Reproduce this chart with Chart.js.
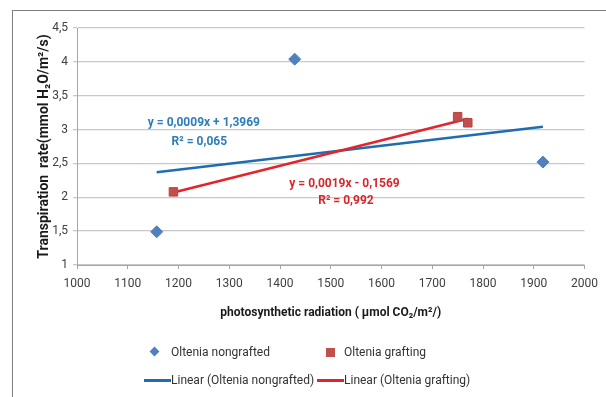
<!DOCTYPE html>
<html>
<head>
<meta charset="utf-8">
<script src="https://cdn.jsdelivr.net/npm/chart.js@4"></script>
<style>
  body { margin: 0; background: #fff; }
  #wrap { position: relative; width: 606px; height: 397px; overflow: hidden; font-family: Roboto, sans-serif; }
  #frame { position: absolute; left: 12px; top: 10px; width: 640px; height: 420px; border: 1.5px solid #7f7f7f; }
  #chart { position: absolute; left: 0; top: 0; }
  .lg { position: absolute; font-size: 12px; color: #333; line-height: 14px; white-space: nowrap; }
  .mk { position: absolute; }
</style>
</head>
<body>
<div id="wrap">
  <div id="frame"></div>
  <canvas id="chart" width="606" height="397"></canvas>
  <div class="mk" style="left:151px;top:348px;width:7px;height:7px;background:#4f81bd;transform:rotate(45deg);"></div>
  <div class="lg" style="left:171px;top:345px;">Oltenia nongrafted</div>
  <div class="mk" style="left:326px;top:348px;width:9px;height:9px;background:#c0504d;"></div>
  <div class="lg" style="left:344px;top:345px;">Oltenia grafting</div>
  <div class="mk" style="left:144px;top:379px;width:27px;height:3px;background:#1f6db0;"></div>
  <div class="lg" style="left:171px;top:373px;">Linear (Oltenia nongrafted)</div>
  <div class="mk" style="left:317px;top:379px;width:27px;height:3px;background:#e3242b;"></div>
  <div class="lg" style="left:344px;top:373px;">Linear (Oltenia grafting)</div>
</div>
<script>
// values
const nongraftedX = [1157, 1429, 1918];
const nongraftedY = [1.49, 4.04, 2.52];
const graftingX = [1190, 1750, 1770];
const graftingY = [2.08, 3.19, 3.10];

// trend line end points
const nongraftedTrendX = [1157, 1918];
const nongraftedTrendY = [2.37, 3.04];
const graftingTrendX = [1190, 1770];
const graftingTrendY = [2.07, 3.16];

const xTicks = [1000, 1100, 1200, 1300, 1400, 1500, 1600, 1700, 1800, 1900, 2000];
const xTickLabels = ['1000', '1100', '1200', '1300', '1400', '1500', '1600', '1700', '1800', '1900', '2000'];
const yTicks = [1, 1.5, 2, 2.5, 3, 3.5, 4, 4.5];
const yTickLabels = ['1', '1,5', '2', '2,5', '3', '3,5', '4', '4,5'];

const equations = [
  { text: 'y = 0,0009x + 1,3969', x: 1250, y: 3.10, color: '#2e7dbb' },
  { text: 'R² = 0,065', x: 1241, y: 2.82, color: '#2e7dbb' },
  { text: 'y = 0,0019x - 0,1569', x: 1527, y: 2.20, color: '#d9262b' },
  { text: 'R² = 0,992', x: 1530, y: 1.95, color: '#d9262b' }
];

const FONT = 'Roboto, sans-serif';

function pts(xs, ys) {
  return xs.map((x, i) => ({ x: x, y: ys[i] }));
}

const eqPlugin = {
  id: 'eqLabels',
  afterDatasetsDraw(chart) {
    const ctx = chart.ctx;
    const sx = chart.scales.x, sy = chart.scales.y;
    ctx.save();
    ctx.font = 'bold 12px ' + FONT;
    ctx.textAlign = 'center';
    ctx.textBaseline = 'middle';
    equations.forEach(e => {
      ctx.fillStyle = e.color;
      ctx.fillText(e.text, sx.getPixelForValue(e.x), sy.getPixelForValue(e.y));
    });
    ctx.restore();
  }
};

new Chart(document.getElementById('chart').getContext('2d'), {
  type: 'scatter',
  data: {
    datasets: [
      {
        label: 'Oltenia nongrafted',
        data: pts(nongraftedX, nongraftedY),
        pointStyle: 'rectRot',
        pointRadius: 6,
        backgroundColor: '#4f81bd',
        borderColor: '#4f81bd',
        order: 0
      },
      {
        label: 'Oltenia grafting',
        data: pts(graftingX, graftingY),
        pointStyle: 'rect',
        pointRadius: 6,
        backgroundColor: '#c0504d',
        borderColor: '#b84542',
        order: 0
      },
      {
        label: 'Linear (Oltenia nongrafted)',
        type: 'line',
        data: pts(nongraftedTrendX, nongraftedTrendY),
        borderColor: '#1f6db0',
        borderWidth: 2.5,
        pointRadius: 0,
        fill: false,
        order: 2
      },
      {
        label: 'Linear (Oltenia grafting)',
        type: 'line',
        data: pts(graftingTrendX, graftingTrendY),
        borderColor: '#e3242b',
        borderWidth: 2.5,
        pointRadius: 0,
        fill: false,
        order: 1
      }
    ]
  },
  options: {
    responsive: false,
    animation: false,
    layout: { padding: { left: 36, right: 17, top: 28, bottom: 77 } },
    plugins: {
      legend: { display: false },
      tooltip: { enabled: false }
    },
    scales: {
      x: {
        type: 'linear',
        min: 1000,
        max: 2000,
        afterBuildTicks: axis => { axis.ticks = xTicks.map(v => ({ value: v })); },
        afterFit: scale => { scale.height = 55; },
        grid: { drawOnChartArea: false, drawTicks: true, tickLength: 4, color: '#a6a6a6' },
        border: { color: '#a6a6a6', width: 1 },
        ticks: {
          padding: 8,
          color: '#404040',
          font: { family: FONT, size: 12 },
          maxRotation: 0,
          callback: (v, i) => xTickLabels[i]
        },
        title: {
          display: true,
          text: 'photosynthetic radiation ( µmol CO₂/m²/)',
          color: '#1a1a1a',
          padding: 0,
          font: { family: FONT, size: 12, weight: 'bold' }
        }
      },
      y: {
        min: 1,
        max: 4.5,
        afterBuildTicks: axis => { axis.ticks = yTicks.map(v => ({ value: v })); },
        afterFit: scale => { scale.width = 41; },
        grid: { color: '#c8c8c8', lineWidth: 1.3, tickLength: 4 },
        border: { color: '#a6a6a6', width: 1 },
        ticks: {
          padding: 5,
          color: '#404040',
          font: { family: FONT, size: 12 },
          callback: (v, i) => yTickLabels[i]
        },
        title: {
          display: true,
          text: 'Transpiration  rate(mmol H₂O/m²/s)',
          color: '#1a1a1a',
          padding: 0,
          font: { family: FONT, size: 14, weight: 'bold' }
        }
      }
    }
  },
  plugins: [eqPlugin]
});
</script>
</body>
</html>
